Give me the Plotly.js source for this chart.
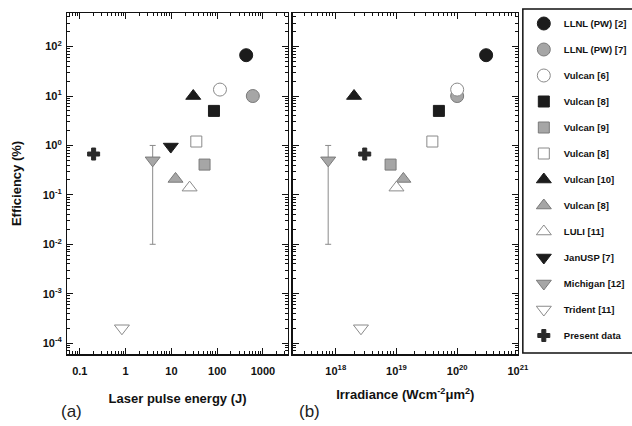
<!DOCTYPE html>
<html>
<head>
<meta charset="utf-8">
<script src="https://cdn.plot.ly/plotly-3.0.1.min.js"></script>
<style>
  html, body { margin: 0; padding: 0; background: #fff; }
  #chart { width: 632px; height: 426px; }
</style>
</head>
<body>
<div id="chart"></div>
<script>
// Conversion efficiency vs. laser pulse energy (a) and irradiance (b)
const seriesNames = ['LLNL (PW) [2]', 'LLNL (PW) [7]', 'Vulcan [6]', 'Vulcan [8]', 'Vulcan [9]',
  'Vulcan [8]', 'Vulcan [10]', 'Vulcan [8]', 'LULI [11]', 'JanUSP [7]', 'Michigan [12]',
  'Trident [11]', 'Present data'];
const energyJ = [430, 600, 115, 85, 53, 35, 30, 12.3, 25, 9.7, 3.9, 0.83, 0.2];
const irradiance = [3e20, 1e20, 1e20, 5e19, 8e18, 3.9e19, 2e18, 1.3e19, 1e19, null, 7.5e17, 2.6e18, 3e18];
const efficiencyPct = [67, 10, 13.5, 5, 0.41, 1.2, 10, 0.21, 0.14, 0.95, 0.5, 2e-4, 0.67];
// Michigan uncertainty range
const michiganUpper = 1;
const michiganLower = 0.01;

const yTickVals = [1e-4, 1e-3, 1e-2, 1e-1, 1, 10, 100];
const yTickText = ['10<sup>-4</sup>', '10<sup>-3</sup>', '10<sup>-2</sup>', '10<sup>-1</sup>',
  '10<sup>0</sup>', '10<sup>1</sup>', '10<sup>2</sup>'];
const eTickVals = [0.1, 1, 10, 100, 1000];
const eTickText = ['0.1', '1', '10', '100', '1000'];
const iTickVals = [1e18, 1e19, 1e20, 1e21];
const iTickText = ['10<sup>18</sup>', '10<sup>19</sup>', '10<sup>20</sup>', '10<sup>21</sup>'];

// intermediate (2..9 x 10^n) tick positions for a log axis
function minorLogTicks(fromExp, toExp) {
  const out = [];
  for (let e = fromExp; e <= toExp; e++) {
    for (let m = 2; m <= 9; m++) out.push(m * Math.pow(10, e));
  }
  return out;
}

// marker look per series
const BLACK = '#1c1c1c', GRAY = '#a6a6a6', GRAYLINE = '#7a7a7a', OPENLINE = '#8a8a8a';
const styles = [
  { symbol: 'circle', size: 13, color: BLACK, line: BLACK },
  { symbol: 'circle', size: 13, color: GRAY, line: GRAYLINE },
  { symbol: 'circle', size: 13, color: '#ffffff', line: OPENLINE },
  { symbol: 'square', size: 11, color: BLACK, line: BLACK },
  { symbol: 'square', size: 11, color: GRAY, line: GRAYLINE },
  { symbol: 'square', size: 11, color: '#ffffff', line: OPENLINE },
  { symbol: 'triangle-up', size: 13, color: BLACK, line: BLACK },
  { symbol: 'triangle-up', size: 13, color: GRAY, line: GRAYLINE },
  { symbol: 'triangle-up', size: 13, color: '#ffffff', line: OPENLINE },
  { symbol: 'triangle-down', size: 13, color: BLACK, line: BLACK },
  { symbol: 'triangle-down', size: 13, color: GRAY, line: GRAYLINE },
  { symbol: 'triangle-down', size: 13, color: '#ffffff', line: OPENLINE },
  { symbol: 'cross', size: 10, color: '#2a2a2a', line: '#2a2a2a' }
];

function markerOf(i) {
  const s = styles[i];
  return { symbol: s.symbol, size: s.size, color: s.color, line: { color: s.line, width: 1 } };
}

const traces = [];
['x', 'x2'].forEach((xa, panel) => {
  const xs = panel === 0 ? energyJ : irradiance;
  seriesNames.forEach((name, i) => {
    if (xs[i] === null) return;
    const t = {
      type: 'scatter', mode: 'markers',
      x: [xs[i]], y: [efficiencyPct[i]],
      xaxis: xa, yaxis: panel === 0 ? 'y' : 'y2',
      name: name, legendgroup: 'g' + i, showlegend: panel === 0,
      marker: markerOf(i), cliponaxis: false
    };
    if (name.startsWith('Michigan')) {
      t.error_y = {
        type: 'data', symmetric: false,
        array: [michiganUpper - efficiencyPct[i]],
        arrayminus: [efficiencyPct[i] - michiganLower],
        color: '#8a8a8a', thickness: 1, width: 3
      };
    }
    traces.push(t);
  });
});

const W = 632, H = 426;
const px = v => v / W, py = v => 1 - v / H;
const FAMILY = 'Liberation Sans, Arial, sans-serif';
const tickFont = { family: FAMILY, size: 11, color: '#111', weight: 'bold' };
const titleFont = { family: FAMILY, size: 13, color: '#111', weight: 'bold' };

function logAxis(minorVals) {
  return {
    type: 'log', showline: true, linecolor: '#111', linewidth: 1.5, mirror: 'ticks',
    ticks: 'inside', ticklen: 6, tickwidth: 1, tickcolor: '#111',
    minor: { tickmode: 'array', tickvals: minorVals, ticks: 'inside', ticklen: 3,
             tickcolor: '#111', tickwidth: 1, showgrid: false },
    showgrid: false, zeroline: false, tickfont: tickFont, fixedrange: true
  };
}

const yRange = [-4.22, 2.68];
const yMinor = minorLogTicks(-5, 2);
const layout = {
  width: W, height: H,
  margin: { l: 0, r: 0, t: 0, b: 0 },
  paper_bgcolor: '#fff', plot_bgcolor: '#fff',
  showlegend: true,
  legend: {
    x: px(528), xanchor: 'left', y: py(9), yanchor: 'top',
    borderwidth: 0, bgcolor: 'rgba(0,0,0,0)',
    font: { family: FAMILY, size: 9.5, color: '#111', weight: 'bold' },
    tracegroupgap: 7, itemsizing: 'trace'
  },
  xaxis: Object.assign(logAxis(minorLogTicks(-2, 3)), {
    domain: [px(68), px(290)], range: [-1.27, 3.54], anchor: 'y',
    tickvals: eTickVals, ticktext: eTickText, ticklabelstandoff: 6,
    title: { text: 'Laser pulse energy (J)', font: titleFont, standoff: 18 }
  }),
  yaxis: Object.assign(logAxis(yMinor), {
    domain: [py(354), py(13)], range: yRange, anchor: 'x',
    tickvals: yTickVals, ticktext: yTickText, ticklabelstandoff: 2,
    title: { text: 'Efficiency (%)', font: titleFont, standoff: 18 }
  }),
  xaxis2: Object.assign(logAxis(minorLogTicks(17, 20)), {
    domain: [px(295), px(522)], range: [17.29, 21.0], anchor: 'y2',
    tickvals: iTickVals, ticktext: iTickText, ticklabelstandoff: 6,
    title: { text: 'Irradiance (Wcm<sup>-2</sup>\u03bcm<sup>2</sup>)', font: titleFont, standoff: 14 }
  }),
  yaxis2: Object.assign(logAxis(yMinor), {
    domain: [py(354), py(13)], range: yRange, anchor: 'x2',
    tickvals: yTickVals, showticklabels: false
  }),
  shapes: [
    // legend frame, running past the right edge of the page
    { type: 'rect', xref: 'paper', yref: 'paper', x0: px(527), x1: px(650), y0: py(353), y1: py(9),
      line: { color: '#111', width: 1.5 }, fillcolor: 'rgba(0,0,0,0)', layer: 'below' }
  ],
  annotations: [
    { text: '(a)', xref: 'paper', yref: 'paper', x: px(72), y: py(411), xanchor: 'center', yanchor: 'middle',
      showarrow: false, font: { family: FAMILY, size: 17, color: '#222' } },
    { text: '(b)', xref: 'paper', yref: 'paper', x: px(312), y: py(411), xanchor: 'center', yanchor: 'middle',
      showarrow: false, font: { family: FAMILY, size: 17, color: '#222' } }
  ]
};

Plotly.newPlot('chart', traces, layout, { staticPlot: true, displayModeBar: false });
</script>
</body>
</html>
